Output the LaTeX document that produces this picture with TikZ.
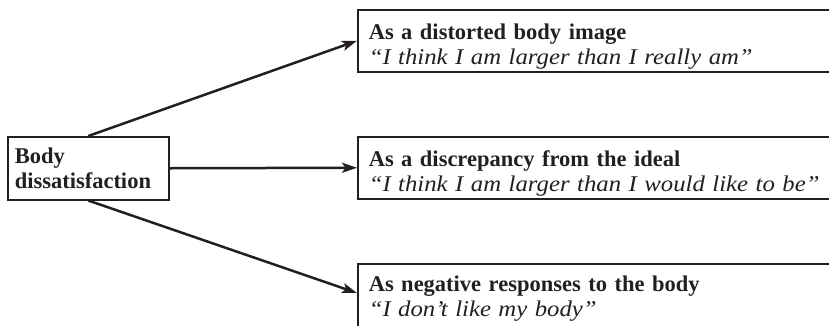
\documentclass[tikz,border=0pt]{standalone}
\usepackage{fontspec}
\setmainfont{Liberation Serif}[ItalicFeatures={FakeStretch=1.1}]
\usetikzlibrary{arrows.meta}
\definecolor{ink}{HTML}{231F20}
\newcommand{\tallstrut}{\rule{0pt}{27pt}}
\begin{document}
\begin{tikzpicture}[x=1pt,y=-1pt,
  box/.style={draw=ink, line width=1.5pt, rectangle, anchor=north west, align=left, inner xsep=7pt, inner ysep=0pt, text=ink, font=\fontsize{22.5}{25}\selectfont},
  rbox/.style={box, minimum width=490pt, minimum height=62pt, text width=468pt, inner xsep=11pt},
  conn/.style={draw=ink, line width=2.5pt, -{Stealth[length=15pt,width=10pt,inset=3.5pt]}}]
\useasboundingbox (0,0) rectangle (829,325);
\clip (0,0) rectangle (829,325);
\node[box, minimum width=161pt, minimum height=63pt, text width=147pt] (L) at (7,136) {\textbf{Body}\\\textbf{dissatisfaction}};
\node[rbox] (B1) at (357,9) {\tallstrut\textbf{As a distorted body image}\\\textit{“I think I am larger than I really am”}};
\node[rbox] (B2) at (357,136) {\tallstrut\textbf{As a discrepancy from the ideal}\\\textit{“I think I am larger than I would like to be”}};
\node[rbox, minimum height=70pt] (B3) at (357,263) {\textbf{As negative responses to the body}\\\textit{“I don’t like my body”}\\[6pt]};
\draw[conn] (L.north) -- (B1.west);
\draw[conn] (L.east) -- (B2.west);
\draw[conn] (L.south) -- ([yshift=-30pt]B3.north west);
\end{tikzpicture}
\end{document}
